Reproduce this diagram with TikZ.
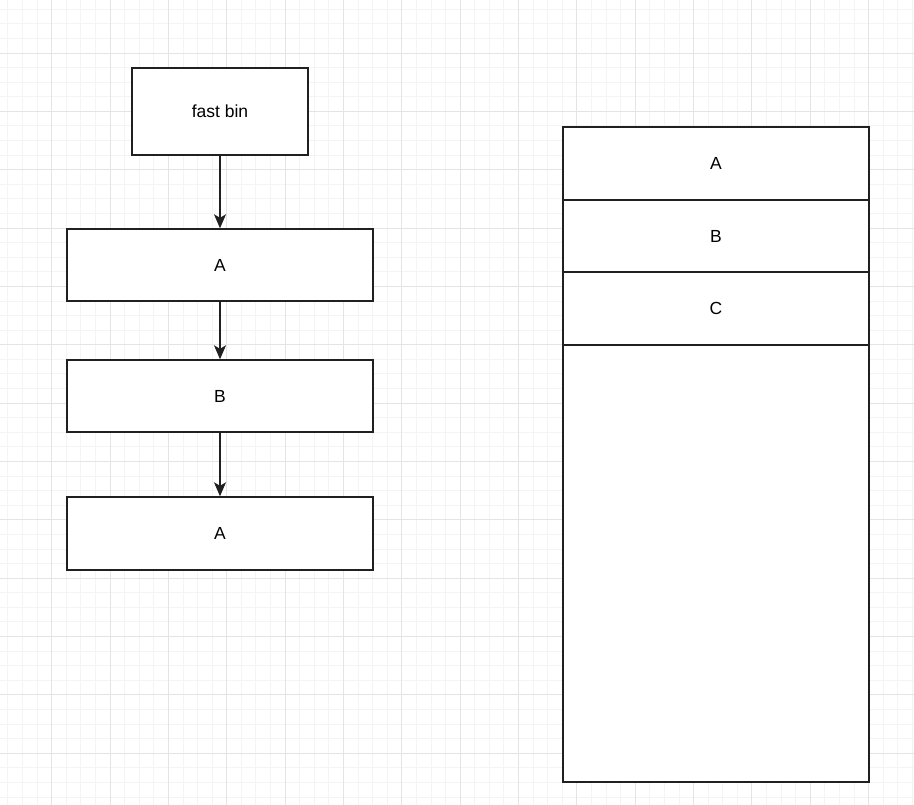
\documentclass[tikz,border=0pt]{standalone}
\usepackage{fontspec}
\setmainfont{Liberation Sans}
\usetikzlibrary{arrows.meta}
\definecolor{gridminor}{HTML}{F4F4F4}
\definecolor{gridmajor}{HTML}{E4E4E4}
\definecolor{edge}{HTML}{202020}
\tikzset{
  box/.style={draw=edge, line width=1.4pt, fill=white, inner sep=0pt, font=\fontsize{17.5}{20}\selectfont},
  cell/.style={draw=edge, line width=1.4pt, inner sep=0pt, font=\fontsize{17.5}{20}\selectfont},
  link/.style={draw=edge, line width=1.4pt, -{Stealth[length=14pt,width=12pt,inset=3.5pt]}}
}
\begin{document}
\begin{tikzpicture}[x=1pt,y=-1pt]
\useasboundingbox (0,0) rectangle (914,805);
\fill[white] (0,0) rectangle (914,805);
% grid
\foreach \i in {0,...,63}{
  \pgfmathsetmacro{\gx}{7.94+\i*14.5875}
  \draw[gridminor, line width=0.9pt] (\gx,0) -- (\gx,805);
}
\foreach \j in {0,...,55}{
  \pgfmathsetmacro{\gy}{9.24+\j*14.5875}
  \draw[gridminor, line width=0.9pt] (0,\gy) -- (914,\gy);
}
\foreach \i in {0,...,15}{
  \pgfmathsetmacro{\gx}{51.7+\i*58.35}
  \draw[gridmajor, line width=0.9pt] (\gx,0) -- (\gx,805);
}
\foreach \j in {0,...,13}{
  \pgfmathsetmacro{\gy}{53.0+\j*58.35}
  \draw[gridmajor, line width=0.9pt] (0,\gy) -- (914,\gy);
}
% left column
\node[box, minimum width=176pt, minimum height=87pt] (fb) at (220,111.5) {fast bin};
\node[box, minimum width=306pt, minimum height=72pt] (a1) at (220,265) {A};
\node[box, minimum width=306pt, minimum height=72pt] (b1) at (220,396) {B};
\node[box, minimum width=306pt, minimum height=73pt] (a2) at (220,533.5) {A};
\draw[link] (fb) -- (a1);
\draw[link] (a1) -- (b1);
\draw[link] (b1) -- (a2);
% right column
\fill[white] (563,127) rectangle (869,782);
\node[cell, minimum width=306pt, minimum height=437pt] (rest) at (716,563.5) {};
\node[cell, minimum width=306pt, minimum height=73pt] (ra) at (716,163.5) {A};
\node[cell, minimum width=306pt, minimum height=72pt] (rb) at (716,236) {B};
\node[cell, minimum width=306pt, minimum height=73pt] (rc) at (716,308.5) {C};
\end{tikzpicture}
\end{document}
